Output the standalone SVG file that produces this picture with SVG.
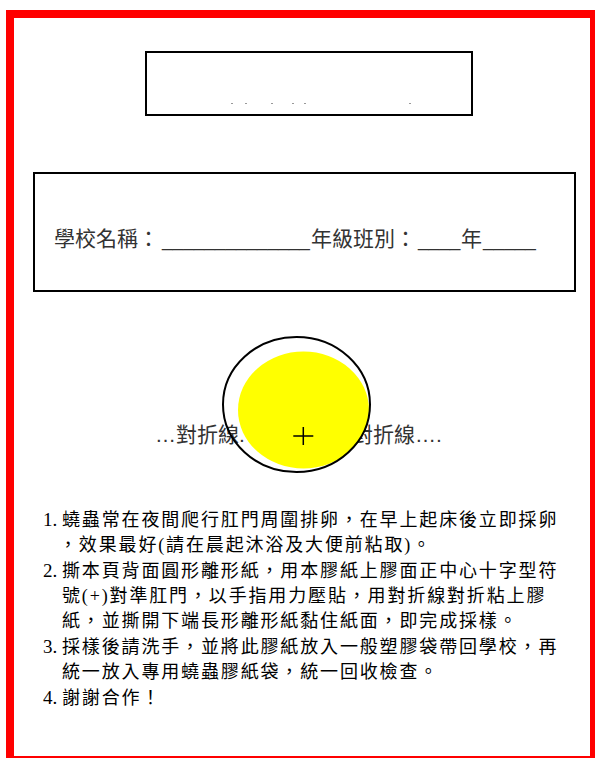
<svg xmlns="http://www.w3.org/2000/svg" width="595" height="758" viewBox="0 0 595 758">
<style>
.box{fill:none;stroke:#000;stroke-width:2}
.hdr{font-family:"Liberation Sans","Noto Sans CJK TC",sans-serif;font-size:21px;fill:#333}
.us{font-size:19px}
.li{font-family:"Liberation Serif","Noto Sans CJK TC",serif;font-size:18px;fill:#000;letter-spacing:1.85px}
.num{font-family:"Liberation Serif",serif;font-size:19px;fill:#000}
</style>
<rect width="595" height="758" fill="#fff"/>
<g id="border"><rect x="10" y="14" width="584" height="746" fill="none" stroke="#ff0000" stroke-width="8"/></g>
<g id="title-box">
<rect class="box" x="146" y="52" width="326" height="63"/>
<g fill="#999"><rect x="231" y="103" width="2" height="1"/><rect x="245" y="103" width="2" height="1"/><rect x="271" y="103" width="2" height="1"/><rect x="292" y="103" width="2" height="1"/><rect x="304" y="103" width="2" height="1"/><rect x="409" y="103" width="2" height="1"/></g>
</g>
<g id="school-box">
<rect class="box" x="34" y="173" width="541" height="118"/>
<text class="hdr" y="246"><tspan x="54">學校名稱：</tspan><tspan class="us" x="162">______________</tspan><tspan x="311">年級班別：</tspan><tspan class="us" x="418">____</tspan><tspan x="461">年</tspan><tspan class="us" x="483">_____</tspan></text>
</g>
<g id="fold-circle">
<text class="hdr" x="155" y="442">…對折線.</text>
<text class="hdr" x="352" y="442">對折線….</text>
<ellipse cx="303.5" cy="410" rx="65.5" ry="58.5" fill="#ffff00"/>
<ellipse cx="296.5" cy="404.5" rx="73.5" ry="67.5" fill="none" stroke="#000" stroke-width="2"/>
<path d="M293.3 436H313.3M303.3 427V445" stroke="#000" stroke-width="1.5"/>
</g>
<g id="instructions">
<text class="num" x="43" y="526">1.</text>
<text class="li" x="62" y="526">蟯蟲常在夜間爬行肛門周圍排卵，在早上起床後立即採卵</text>
<text class="li" x="59" y="551">，效果最好(請在晨起沐浴及大便前粘取)。</text>
<text class="num" x="43" y="576.5">2.</text>
<text class="li" x="62" y="576.5">撕本頁背面圓形離形紙，用本膠紙上膠面正中心十字型符</text>
<text class="li" x="62" y="602">號(+)對準肛門，以手指用力壓貼，用對折線對折粘上膠</text>
<text class="li" x="62" y="627">紙，並撕開下端長形離形紙黏住紙面，即完成採樣。</text>
<text class="num" x="43" y="652.5">3.</text>
<text class="li" x="62" y="652.5">採樣後請洗手，並將此膠紙放入一般塑膠袋帶回學校，再</text>
<text class="li" x="62" y="678">統一放入專用蟯蟲膠紙袋，統一回收檢查。</text>
<text class="num" x="43" y="703.5">4.</text>
<text class="li" x="62" y="703.5">謝謝合作！</text>
</g>
</svg>
